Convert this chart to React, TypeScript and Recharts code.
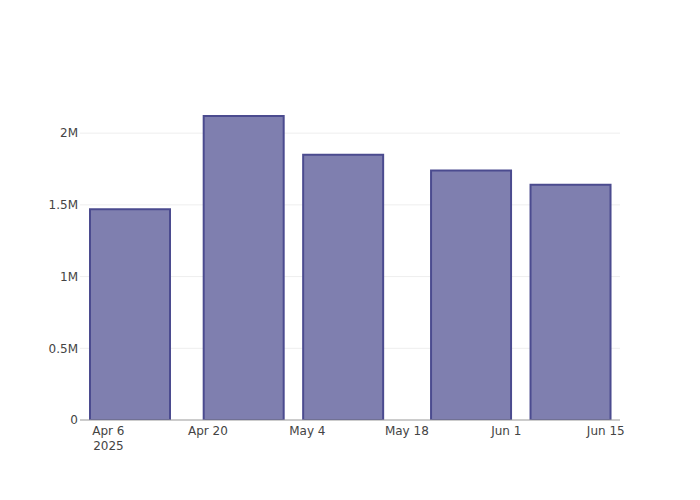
import { BarChart, Bar, XAxis, YAxis, CartesianGrid } from 'recharts';

const barDates = ['2025-04-09', '2025-04-25', '2025-05-09', '2025-05-27', '2025-06-10'];
const barValues = [1470000, 2120000, 1850000, 1740000, 1640000];
const xTickDates = ['2025-04-06', '2025-04-20', '2025-05-04', '2025-05-18', '2025-06-01', '2025-06-15'];
const xTickLabels = ['Apr 6', 'Apr 20', 'May 4', 'May 18', 'Jun 1', 'Jun 15'];
const yTicks = [0, 500000, 1000000, 1500000, 2000000];
const yTickLabels = ['0', '0.5M', '1M', '1.5M', '2M'];

const DAY = 86400000;
const origin = Date.UTC(2025, 3, 6);
const toDay = (s: string) => (Date.parse(s + 'T00:00:00Z') - origin) / DAY;

const data = barDates.map((d, i) => ({ day: toDay(d), value: barValues[i] }));
const xTicks = xTickDates.map(toDay);

const font = '"DejaVu Sans", Verdana, sans-serif';

const XTick = (props: any) => {
  const { x, y, payload } = props;
  const idx = xTicks.indexOf(payload.value);
  return (
    <g>
      <text x={x} y={y + 13} textAnchor="middle" fill="#444" fontSize={12} fontFamily={font}>
        {xTickLabels[idx]}
      </text>
      {idx === 0 && (
        <text x={x} y={y + 28} textAnchor="middle" fill="#444" fontSize={12} fontFamily={font}>
          2025
        </text>
      )}
    </g>
  );
};

export default function App() {
  return (
    <div style={{ position: 'fixed', top: 0, left: 0, width: 700, height: 500, background: '#fff' }}>
      <BarChart
        width={700}
        height={500}
        data={data}
        margin={{ top: 100, right: 80, bottom: 0, left: 0 }}
      >
        <CartesianGrid
          vertical={false}
          stroke="#eee"
          strokeWidth={1}
          horizontalValues={[500000, 1000000, 1500000, 2000000]}
        />
        <XAxis
          dataKey="day"
          type="number"
          domain={[-4, 72]}
          allowDataOverflow
          ticks={xTicks}
          interval={0}
          tick={<XTick />}
          tickLine={false}
          axisLine={{ stroke: '#999', strokeWidth: 1 }}
          height={80}
          tickSize={0}
        />
        <YAxis
          type="number"
          domain={[0, 2231000]}
          allowDataOverflow
          ticks={yTicks}
          interval={0}
          width={80}
          tickLine={false}
          axisLine={false}
          tickSize={0}
          tickMargin={2}
          tickFormatter={(v: number) => yTickLabels[yTicks.indexOf(v)]}
          tick={{ fill: '#444', fontSize: 12, fontFamily: font }}
        />
        <Bar
          dataKey="value"
          barSize={80}
          fill="rgb(127,127,175)"
          stroke="#4b4b8f"
          strokeWidth={2}
          isAnimationActive={false}
        />
      </BarChart>
    </div>
  );
}
